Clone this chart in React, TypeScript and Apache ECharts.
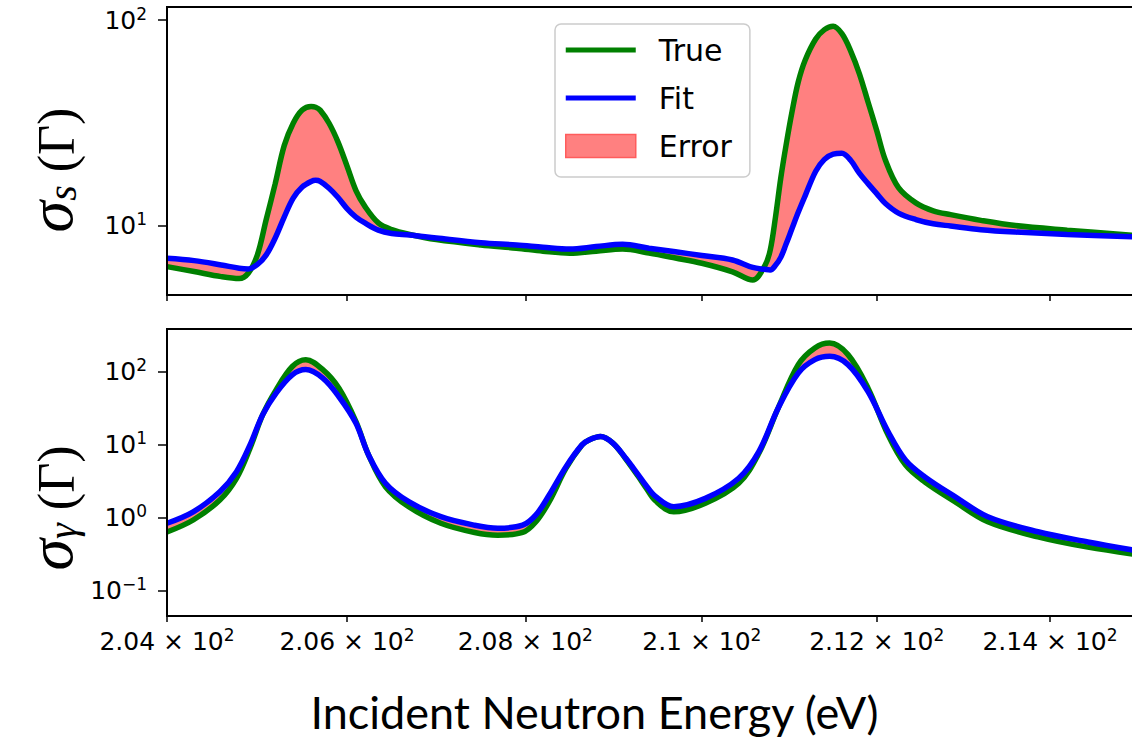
import { useEffect, useRef } from 'react';
import * as echarts from 'echarts';

// ---------- data ----------
const energyTop = [204.0, 204.3, 204.6, 204.8, 204.9, 205.0, 205.1, 205.2, 205.3, 205.4, 205.5, 205.6, 205.65, 205.7, 205.8, 205.9, 206.0, 206.1, 206.2, 206.35, 206.5, 206.7, 207.0, 207.5, 207.9, 208.2, 208.5, 208.8, 209.1, 209.4, 209.7, 210.0, 210.35, 210.58, 210.72, 210.78, 210.84, 210.9, 210.96, 211.03, 211.1, 211.18, 211.3, 211.4, 211.5, 211.6, 211.7, 211.8, 211.9, 212.0, 212.1, 212.25, 212.45, 212.65, 212.85, 213.2, 213.6, 214.2, 215.0];
const trueTop = [6.31, 5.97, 5.64, 5.52, 5.86, 7.15, 10.7, 16.0, 24.5, 31.5, 36.5, 38.0, 37.7, 36.5, 31.5, 25.5, 19.5, 14.8, 12.4, 10.3, 9.55, 9.05, 8.55, 8.05, 7.76, 7.5, 7.33, 7.5, 7.69, 7.35, 6.95, 6.55, 5.95, 5.43, 6.4, 7.6, 11.0, 17.0, 24.5, 36, 50, 64, 81, 90, 93.5, 86, 71, 55, 40, 29, 20.8, 15.3, 12.9, 11.8, 11.3, 10.6, 10.0, 9.5, 8.95];
const fitTop = [6.93, 6.75, 6.43, 6.2, 6.15, 6.45, 7.2, 8.7, 11.0, 13.6, 15.4, 16.4, 16.6, 16.4, 15.2, 13.7, 12.1, 11.0, 10.3, 9.5, 9.15, 9.0, 8.7, 8.25, 8.05, 7.85, 7.68, 7.9, 8.11, 7.76, 7.45, 7.15, 6.8, 6.25, 6.12, 6.08, 6.4, 7.0, 8.1, 9.7, 11.6, 14.0, 18.4, 21.0, 22.3, 22.5, 20.8, 18.0, 16.0, 14.3, 12.8, 11.5, 10.7, 10.2, 9.95, 9.55, 9.3, 9.05, 8.82];

const energyBottom = [204.0, 204.29, 204.585, 204.77, 204.92, 205.06, 205.21, 205.39, 205.54, 205.73, 205.91, 206.10, 206.24, 206.43, 206.69, 207.05, 207.43, 207.69, 207.97, 208.12, 208.27, 208.46, 208.64, 208.72, 208.85, 208.99, 209.13, 209.28, 209.36, 209.47, 209.68, 210.04, 210.42, 210.65, 210.87, 211.10, 211.29, 211.46, 211.67, 211.90, 212.13, 212.33, 212.55, 212.90, 213.28, 213.86, 214.44, 215.0];
const trueBottom = [0.63, 0.92, 1.73, 3.43, 8.87, 25.4, 56, 117, 145, 106, 59, 20.6, 7.2, 2.63, 1.4, 0.83, 0.62, 0.57, 0.62, 0.87, 1.64, 4.71, 9.84, 11.5, 12.8, 10.4, 6.46, 3.6, 2.6, 1.7, 1.19, 1.56, 2.93, 7.57, 31.4, 124, 210, 245, 170, 59, 13.5, 5.23, 3.08, 1.64, 0.87, 0.54, 0.39, 0.31];
const fitBottom = [0.83, 1.19, 2.25, 4.23, 9.84, 25.4, 50.5, 90, 106, 81, 45, 19.5, 7.2, 2.93, 1.64, 1.02, 0.78, 0.71, 0.78, 1.08, 2.02, 4.95, 9.84, 11.5, 12.8, 10.4, 6.6, 3.8, 2.8, 1.95, 1.4, 1.82, 3.43, 7.96, 31.4, 95, 145, 161, 124, 53, 15, 6.12, 3.61, 1.92, 1.02, 0.634, 0.46, 0.35];

const xTickEnergies = [204, 206, 208, 210, 212, 214];
const xLimits = [204, 215];
const topYLimits = [4.59, 116];
const bottomYLimits = [0.0444, 382];
const topYMajorTicks = [10, 100];
const bottomYMajorTicks = [0.1, 1, 10, 100];

const legendNames = ['True', 'Fit', 'Error'];
const yTitleTop = '{g|σ}{sub|s}{t| (Γ)}';
const yTitleBottom = '{g|σ}{sub|γ}{t| (Γ)}';
const xName = 'Incident Neutron Energy (eV)';

// ---------- helpers ----------
const lg = (v: number) => Math.log10(v);

function minorTicks(lo: number, hi: number) {
  const out: number[] = [];
  for (let p = Math.floor(lg(lo)); p <= Math.ceil(lg(hi)); p++) {
    for (let k = 2; k <= 9; k++) {
      const v = k * Math.pow(10, p);
      if (v >= lo && v <= hi) out.push(lg(v));
    }
  }
  return out;
}

const tickRich: any = {
  b: { fontFamily: 'DejaVu Sans', fontSize: 25, color: '#000', lineHeight: 30 },
  sup: { fontFamily: 'DejaVu Sans', fontSize: 17, color: '#000', verticalAlign: 'top', lineHeight: 20 },
};

const titleRich: any = {
  g: { fontFamily: 'Liberation Serif', fontStyle: 'italic', fontSize: 64, lineHeight: 64, color: '#000', verticalAlign: 'bottom' },
  sub: { fontFamily: 'Liberation Serif', fontStyle: 'italic', fontSize: 40, lineHeight: 40, color: '#000', verticalAlign: 'bottom' },
  t: { fontFamily: 'Liberation Serif', fontSize: 52, lineHeight: 52, color: '#000', verticalAlign: 'bottom' },
};

function xLabel(v: number) {
  const e = Math.round(Math.pow(10, v) * 100) / 100;
  const exp = Math.floor(lg(e) + 1e-9);
  const m = parseFloat((e / Math.pow(10, exp)).toFixed(4));
  return `{b|${m} × 10}{sup|${exp}}`;
}

function yLabel(v: number) {
  const n = Math.round(v);
  return `{b|10}{sup|${n < 0 ? '−' + -n : n}}`;
}

function panelSeries(energy: number[], tv: number[], fv: number[], xIdx: number, yIdx: number, tag: string) {
  const xs = energy.map(lg);
  const lt = tv.map(lg);
  const lf = fv.map(lg);
  const common = {
    type: 'line',
    xAxisIndex: xIdx,
    yAxisIndex: yIdx,
    symbol: 'none',
    smooth: 0.35,
    silent: true,
    emphasis: { disabled: true },
  };
  return [
    // error band: red area under the upper curve ...
    {
      ...common,
      name: 'Error',
      data: xs.map((x, i) => [x, Math.max(lt[i], lf[i])]),
      lineStyle: { width: 0, opacity: 0 },
      areaStyle: { color: '#ff8080', opacity: 1, origin: 'start' },
      itemStyle: { color: '#ff8080' },
    },
    // ... with the part under the lower curve masked out
    {
      ...common,
      name: 'mask' + tag,
      data: xs.map((x, i) => [x, Math.min(lt[i], lf[i])]),
      lineStyle: { width: 0, opacity: 0 },
      areaStyle: { color: '#ffffff', opacity: 1, origin: 'start' },
      itemStyle: { color: '#ffffff' },
    },
    {
      ...common,
      name: 'True',
      data: xs.map((x, i) => [x, lt[i]]),
      lineStyle: { color: '#008000', width: 5.5 },
      itemStyle: { color: '#008000' },
    },
    {
      ...common,
      name: 'Fit',
      data: xs.map((x, i) => [x, lf[i]]),
      lineStyle: { color: '#0000ff', width: 5.5 },
      itemStyle: { color: '#0000ff' },
    },
  ];
}

function xAxisDef(gridIndex: number, showLabels: boolean) {
  const ticks = xTickEnergies.map(lg);
  const ax: any = {
    type: 'value',
    gridIndex,
    z: 10,
    min: lg(xLimits[0]),
    max: lg(xLimits[1]),
    axisLine: { show: true, onZero: false, lineStyle: { color: '#000', width: 2 } },
    axisTick: { show: true, length: 6, customValues: ticks, lineStyle: { color: '#000', width: 1.5 } },
    axisLabel: { show: showLabels, customValues: ticks, formatter: xLabel, rich: tickRich, margin: 10 },
    splitLine: { show: false },
  };
  if (showLabels) {
    ax.name = xName;
    ax.nameLocation = 'middle';
    ax.nameGap = 73;
    ax.nameMoveOverlap = false;
    ax.nameTextStyle = { fontFamily: 'Lato', fontSize: 45, color: '#000', padding: [0, 114, 0, 0] };
  }
  return ax;
}

function yAxesDef(gridIndex: number, lim: number[], major: number[]) {
  const majorLogs = major.map(lg);
  return [
    {
      type: 'value',
      gridIndex,
      z: 10,
      min: lg(lim[0]),
      max: lg(lim[1]),
      axisLine: { show: true, onZero: false, lineStyle: { color: '#000', width: 2 } },
      axisTick: { show: true, length: 9, customValues: majorLogs, lineStyle: { color: '#000', width: 1.5 } },
      axisLabel: { show: true, customValues: majorLogs, formatter: yLabel, rich: tickRich, margin: 20 },
      splitLine: { show: false },
    },
    {
      type: 'value',
      gridIndex,
      z: 10,
      min: lg(lim[0]),
      max: lg(lim[1]),
      axisLine: { show: false },
      axisTick: { show: true, length: 5.5, customValues: minorTicks(lim[0], lim[1]), lineStyle: { color: '#000', width: 1.2 } },
      axisLabel: { show: false },
      splitLine: { show: false },
    },
  ];
}

export default function App() {
  const ref = useRef<HTMLDivElement>(null);

  useEffect(() => {
    if (!ref.current) return;
    const chart = echarts.init(ref.current, null, { renderer: 'svg' });
    const legendIcons: any = {
      True: { icon: 'path://M0,0H70V5H0Z', itemStyle: { color: '#008000', borderWidth: 0 } },
      Fit: { icon: 'path://M0,0H70V5H0Z', itemStyle: { color: '#0000ff', borderWidth: 0 } },
      Error: { icon: 'rect', itemStyle: { color: '#ff8080', borderColor: '#ff5c5c', borderWidth: 1.5 } },
    };
    const option: any = {
      animation: false,
      backgroundColor: '#ffffff',
      grid: [
        { left: 167, right: -4, top: 7, height: 288, show: true, borderColor: '#000', borderWidth: 2, backgroundColor: 'transparent', containLabel: false, outerBoundsMode: 'none' },
        { left: 167, right: -4, top: 329, height: 287, show: true, borderColor: '#000', borderWidth: 2, backgroundColor: 'transparent', containLabel: false, outerBoundsMode: 'none' },
      ],
      xAxis: [xAxisDef(0, false), xAxisDef(1, true)],
      yAxis: [
        ...yAxesDef(0, topYLimits, topYMajorTicks),
        ...yAxesDef(1, bottomYLimits, bottomYMajorTicks),
      ],
      graphic: [
        {
          type: 'text',
          x: 50,
          y: 170,
          rotation: Math.PI / 2,
          silent: true,
          style: { text: yTitleTop, rich: titleRich, align: 'center', verticalAlign: 'middle' },
        },
        {
          type: 'text',
          x: 50,
          y: 508,
          rotation: Math.PI / 2,
          silent: true,
          style: { text: yTitleBottom, rich: titleRich, align: 'center', verticalAlign: 'middle' },
        },
      ],
      legend: {
        show: true,
        orient: 'vertical',
        left: 555,
        top: 24,
        selectedMode: false,
        padding: [8, 18, 13, 10],
        itemWidth: 70,
        itemHeight: 23,
        itemGap: 12,
        backgroundColor: '#ffffff',
        borderColor: '#cccccc',
        borderWidth: 1.5,
        borderRadius: 6,
        symbolKeepAspect: true,
        textStyle: { fontFamily: 'DejaVu Sans', fontSize: 30, color: '#000', lineHeight: 36, padding: [0, 0, 0, 18] },
        data: legendNames.map((n) => ({ name: n, ...legendIcons[n] })),
      },
      series: [
        ...panelSeries(energyTop, trueTop, fitTop, 0, 0, 'Top'),
        ...panelSeries(energyBottom, trueBottom, fitBottom, 1, 2, 'Bottom'),
      ],
    };
    chart.setOption(option);
    return () => chart.dispose();
  }, []);

  return (
    <div
      ref={ref}
      style={{ position: 'absolute', left: 0, top: 0, width: 1132, height: 739, background: '#fff' }}
    />
  );
}
